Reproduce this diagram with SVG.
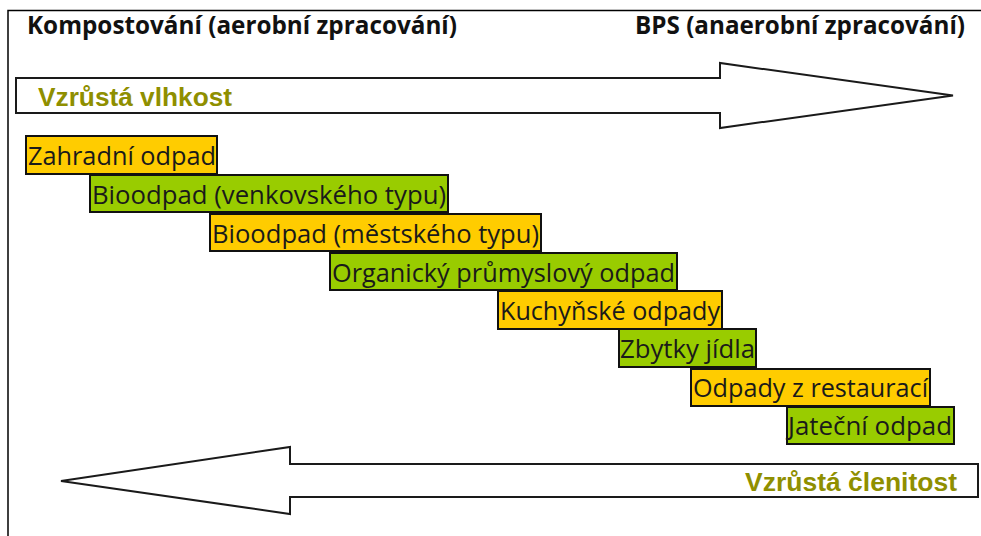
<svg xmlns="http://www.w3.org/2000/svg" width="981" height="536" viewBox="0 0 981 536">
<style>
.frame{fill:none;stroke:#000;stroke-width:1.5}
.arrow{fill:#fff;stroke:#1a1a1a;stroke-width:2;stroke-linejoin:miter}
.yel{fill:#ffcc00;stroke:#111;stroke-width:2}
.grn{fill:#99cc00;stroke:#111;stroke-width:2}
.lbl{font-family:"Open Sans","Liberation Sans",sans-serif;font-size:25px;fill:#1a1a1a}
.head{font-family:"Open Sans","Liberation Sans",sans-serif;font-size:25px;font-weight:bold;fill:#111}
.olive{font-family:"Liberation Sans",Arial,sans-serif;font-size:25px;font-weight:bold;fill:#8f8f00}
</style>
<rect width="981" height="536" fill="#fff"/>
<path class="frame" d="M8,536 V10.5 H981"/>
<g id="headers">
<text class="head" x="27" y="34" textLength="430" lengthAdjust="spacingAndGlyphs">Kompostování (aerobní zpracování)</text>
<text class="head" x="635" y="34" textLength="330" lengthAdjust="spacingAndGlyphs">BPS (anaerobní zpracování)</text>
</g>
<g id="connectors">
<g id="arrow-vlhkost">
<polygon class="arrow" points="16,78 720,78 720,63 953,95.5 720,128 720,113 16,113"/>
<text class="olive" x="38" y="106" textLength="194" lengthAdjust="spacingAndGlyphs">Vzrůstá vlhkost</text>
</g>
<g id="arrow-clenitost">
<polygon class="arrow" points="978,464 290,464 290,447 61,481 290,514 290,497 978,497"/>
<text class="olive" x="745" y="491" textLength="212" lengthAdjust="spacingAndGlyphs">Vzrůstá členitost</text>
</g>
</g>
<g id="n1"><rect class="yel" x="26" y="136" width="191" height="38"/><text class="lbl" x="28" y="165" textLength="188" lengthAdjust="spacingAndGlyphs">Zahradní odpad</text></g>
<g id="n2"><rect class="grn" x="90" y="175" width="358" height="37"/><text class="lbl" x="92" y="204" textLength="354" lengthAdjust="spacingAndGlyphs">Bioodpad (venkovského typu)</text></g>
<g id="n3"><rect class="yel" x="210" y="214" width="331" height="37"/><text class="lbl" x="212" y="243" textLength="327" lengthAdjust="spacingAndGlyphs">Bioodpad (městského typu)</text></g>
<g id="n4"><rect class="grn" x="330" y="253" width="347" height="37"/><text class="lbl" x="332" y="282" textLength="343" lengthAdjust="spacingAndGlyphs">Organický průmyslový odpad</text></g>
<g id="n5"><rect class="yel" x="498" y="291" width="224" height="38"/><text class="lbl" x="500" y="320" textLength="220" lengthAdjust="spacingAndGlyphs">Kuchyňské odpady</text></g>
<g id="n6"><rect class="grn" x="619" y="329" width="137" height="38"/><text class="lbl" x="620" y="358" textLength="135" lengthAdjust="spacingAndGlyphs">Zbytky jídla</text></g>
<g id="n7"><rect class="yel" x="691" y="369" width="239" height="37"/><text class="lbl" x="693" y="397" textLength="235" lengthAdjust="spacingAndGlyphs">Odpady z restaurací</text></g>
<g id="n8"><rect class="grn" x="787" y="407" width="167" height="37"/><text class="lbl" x="788" y="435" textLength="164" lengthAdjust="spacingAndGlyphs">Jateční odpad</text></g>
</svg>
